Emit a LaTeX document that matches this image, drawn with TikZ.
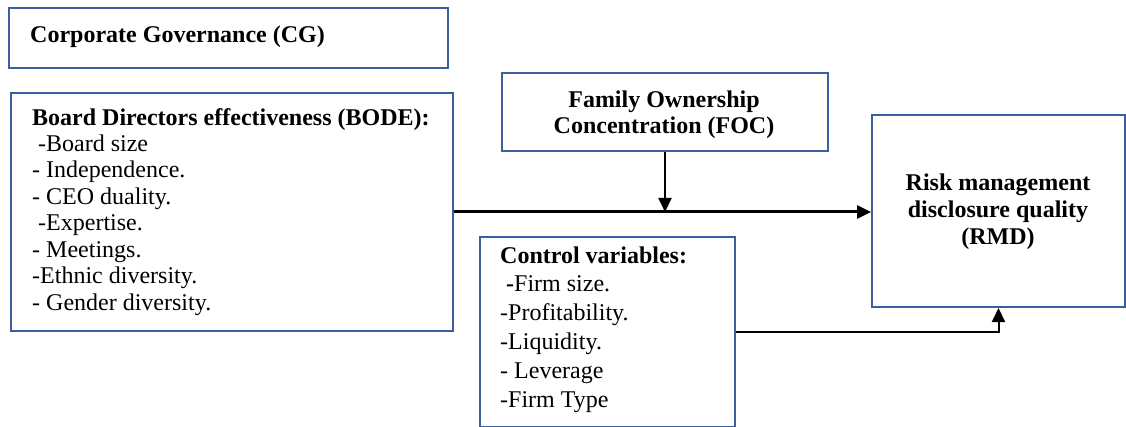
\documentclass[tikz,border=0pt]{standalone}
\usepackage{fontspec}
\setmainfont{Liberation Serif}
\usetikzlibrary{arrows.meta}
\definecolor{boxblue}{HTML}{3B5E9E}
\begin{document}
\begin{tikzpicture}[x=1pt,y=-1pt,
  box/.style={draw=boxblue, line width=2pt, inner sep=0pt, anchor=north west},
  txt/.style={font=\fontsize{24}{26.4}\selectfont, inner sep=0pt, align=left, anchor=base west},
  ctxt/.style={font=\fontsize{24}{26.4}\selectfont\bfseries, inner sep=0pt, align=center},
  arr/.style={-{Triangle[length=14pt,width=13pt]}, line width=2pt}]
\useasboundingbox (0,0) rectangle (1126,427);
% boxes
\node[box, minimum width=439pt, minimum height=60pt] (cg) at (8,7) {};
\node[box, minimum width=442pt, minimum height=238pt] (bode) at (10,92) {};
\node[box, minimum width=326pt, minimum height=78pt] (foc) at (501,72) {};
\node[box, minimum width=253pt, minimum height=192pt] (rmd) at (871,114) {};
\node[box, minimum width=255pt, minimum height=190pt] (ctrl) at (479,236) {};
% texts (base anchor = baseline of the last line)
\node[txt, font=\fontsize{24}{26.4}\selectfont\bfseries] (cgt) at (30,43) {Corporate Governance (CG)};
\node[txt, font=\fontsize{24}{26.4}\selectfont] (bodet) at (32,310) {\textbf{Board Directors effectiveness (BODE):}\\
\hspace*{6pt}-Board size\\
- Independence.\\
- CEO duality.\\
\hspace*{6pt}-Expertise.\\
- Meetings.\\
-Ethnic diversity.\\
- Gender diversity.};
\node[ctxt] (foct) at (664,115) {Family Ownership\\Concentration (FOC)};
\node[ctxt, font=\fontsize{24}{27}\selectfont\bfseries] (rmdt) at (998,212) {Risk management\\disclosure quality\\(RMD)};
\node[txt, font=\fontsize{24}{28.8}\selectfont] (ctrlt) at (500,407) {\textbf{Control variables:}\\
\hspace*{6pt}\textbf{-}Firm size.\\
-Profitability.\\
-Liquidity.\\
- Leverage\\
-Firm Type};
% connectors
\draw[arr, line width=3pt] (bode.east) -- (bode.east -| rmd.west);
\draw[arr] (foc.south) -- (foc.south |- bode.east);
\draw[arr] (ctrl.east) -| (rmd.south);
\end{tikzpicture}
\end{document}
